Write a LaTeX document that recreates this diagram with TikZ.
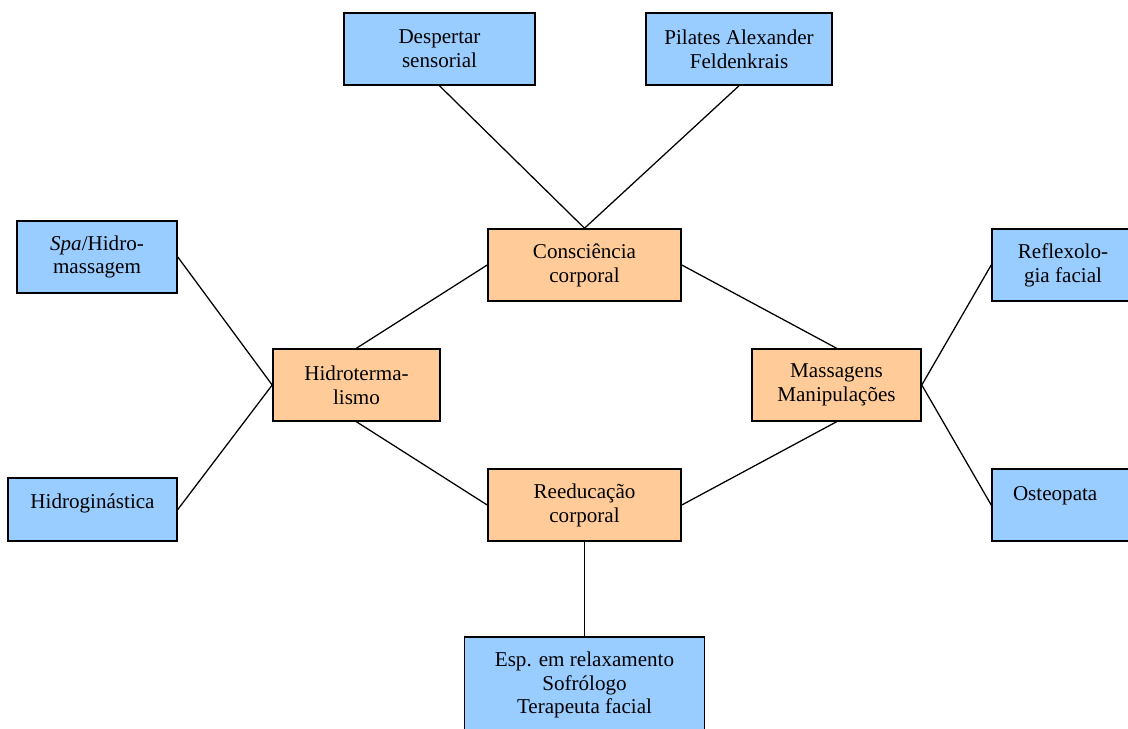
\documentclass[tikz,border=0pt]{standalone}
\usepackage{fontspec}
\setmainfont{Liberation Serif}
\definecolor{azul}{HTML}{99CCFF}
\definecolor{laranja}{HTML}{FFCC99}

\begin{document}
\begin{tikzpicture}[x=0.025cm, y=-0.025cm,
    caixa/.style={draw, line width=1.1pt, align=center, inner sep=0pt,
        font=\fontsize{15}{17}\selectfont},
    azul/.style={caixa, fill=azul},
    laranja/.style={caixa, fill=laranja},
    liga/.style={line width=0.9pt}]
    \useasboundingbox (0,0) rectangle (1128,728);
    \node[azul, minimum width=4.775cm, minimum height=1.8cm] (des) at (439.5,49) {Despertar\\sensorial};
    \node[azul, minimum width=4.65cm, minimum height=1.8cm] (pil) at (739,49) {Pilates Alexander\\Feldenkrais};
    \node[laranja, minimum width=4.825cm, minimum height=1.8cm] (con) at (584.5,265) {Consciência\\corporal};
    \node[laranja, minimum width=4.175cm, minimum height=1.8cm] (hid) at (356.5,385) {Hidroterma-\\lismo};
    \node[laranja, minimum width=4.225cm, minimum height=1.8cm] (mas) at (836.5,385) {Massagens\\Manipulações};
    \node[laranja, minimum width=4.825cm, minimum height=1.8cm] (ree) at (584.5,505) {Reeducação\\corporal};
    \node[azul, minimum width=4cm, minimum height=1.8cm] (spa) at (97,257) {\textit{Spa}/Hidro-\\massagem};
    \node[azul, minimum width=4.225cm, text height=0.75cm, text depth=0.825cm] (hgi) at (92.5,509.5) {Hidroginástica};
    \node[azul, minimum width=3.55cm, minimum height=1.8cm] (ref) at (1063,265) {Reflexolo-\\gia facial};
    \node[azul, minimum width=3.55cm, text width=2.5cm, align=left, text height=0.775cm, text depth=1.025cm] (ost) at (1063,505) {Osteopata};
    \node[azul, minimum width=6cm, minimum height=2.4cm] (esp) at (584.5,685) {Esp. em relaxamento\\Sofrólogo\\Terapeuta facial};

    \draw[liga] (des.south) -- (con.north) -- (pil.south);
    \draw[liga] (con.west) -- (hid.north);
    \draw[liga] (con.east) -- (mas.north);
    \draw[liga] (hid.south) -- (ree.west);
    \draw[liga] (mas.south) -- (ree.east);
    \draw[liga] (ree.south) -- (esp.north);
    \draw[liga] (spa.east) -- (hid.west) -- (hgi.east);
    \draw[liga] (ref.west) -- (mas.east) -- (ost.west);
\end{tikzpicture}
\end{document}
